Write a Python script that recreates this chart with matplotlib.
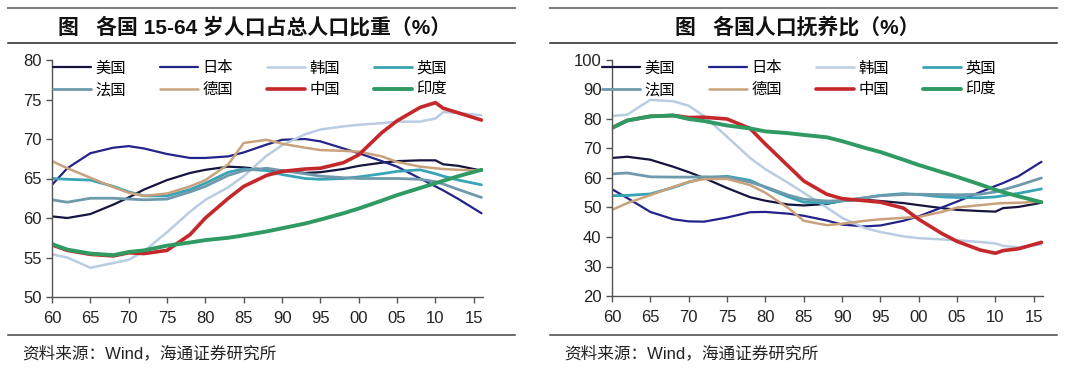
import matplotlib
matplotlib.use("Agg")
import matplotlib.pyplot as plt
from matplotlib.lines import Line2D
from matplotlib.ticker import FuncFormatter, MultipleLocator

plt.rcParams['font.family'] = ['Liberation Sans', 'Noto Sans CJK SC']
plt.rcParams['axes.unicode_minus'] = False

# ------------------------- DADOS -------------------------
years = [1960, 1962, 1965, 1968, 1970, 1972, 1975, 1978, 1980, 1983, 1985, 1988,
         1990, 1993, 1995, 1998, 2000, 2003, 2005, 2008, 2010, 2011, 2013, 2016]

countries = ["美国", "日本", "韩国", "英国", "法国", "德国", "中国", "印度"]

# 15-64 岁人口占总人口比重 (%)
work_us = [60.2, 60.0, 60.5, 61.7, 62.6, 63.6, 64.8, 65.7, 66.1, 66.5, 66.4, 66.1,
           66.0, 65.7, 65.8, 66.2, 66.6, 67.0, 67.2, 67.3, 67.3, 66.8, 66.6, 66.0]
work_jp = [64.2, 66.3, 68.2, 68.9, 69.1, 68.8, 68.1, 67.6, 67.6, 67.8, 68.3, 69.3,
           69.9, 70.0, 69.7, 68.8, 68.2, 67.2, 66.5, 65.0, 64.0, 63.5, 62.4, 60.6]
work_kr = [55.4, 55.0, 53.7, 54.3, 54.7, 55.8, 58.2, 60.8, 62.3, 63.9, 65.3, 67.9,
           69.2, 70.6, 71.2, 71.6, 71.8, 72.0, 72.2, 72.2, 72.6, 73.4, 73.3, 73.0]
work_uk = [65.0, 64.9, 64.8, 64.0, 63.3, 62.8, 62.8, 63.6, 64.4, 65.8, 66.2, 66.0,
           65.5, 65.0, 64.9, 65.0, 65.2, 65.6, 65.9, 66.1, 65.6, 65.3, 64.8, 64.2]
work_fr = [62.3, 62.0, 62.5, 62.5, 62.4, 62.3, 62.4, 63.3, 64.0, 65.4, 66.0, 66.3,
           66.0, 65.6, 65.3, 65.1, 65.0, 65.0, 65.0, 64.9, 64.6, 64.3, 63.6, 62.6]
work_de = [67.2, 66.3, 65.1, 63.9, 63.2, 62.8, 63.1, 64.0, 64.8, 66.8, 69.5, 69.9,
           69.4, 68.9, 68.6, 68.5, 68.4, 67.8, 67.1, 66.5, 66.3, 66.2, 66.1, 66.0]
work_cn = [56.6, 55.9, 55.4, 55.2, 55.6, 55.5, 55.9, 57.9, 60.0, 62.5, 64.0, 65.4,
           65.9, 66.2, 66.3, 67.0, 68.0, 70.8, 72.3, 74.0, 74.6, 73.9, 73.3, 72.4]
work_in = [56.7, 56.0, 55.5, 55.3, 55.7, 55.9, 56.5, 56.9, 57.2, 57.5, 57.8, 58.3,
           58.7, 59.3, 59.8, 60.6, 61.2, 62.2, 62.9, 63.8, 64.4, 64.7, 65.3, 66.1]

# 人口抚养比 (%)
dep_us = [66.8, 67.2, 66.2, 63.8, 62.0, 60.0, 56.6, 53.5, 52.3, 51.0, 50.7, 51.2,
          52.3, 52.6, 52.2, 51.5, 50.8, 49.8, 49.2, 48.8, 48.6, 49.8, 50.2, 51.6]
dep_jp = [56.2, 53.2, 48.5, 46.0, 45.3, 45.2, 46.6, 48.4, 48.5, 47.9, 47.2, 45.6,
          44.2, 43.6, 43.9, 45.5, 47.0, 50.0, 52.0, 55.2, 57.3, 58.3, 60.6, 65.5]
dep_kr = [81.0, 81.5, 86.5, 86.0, 84.5, 81.0, 74.0, 66.8, 63.0, 58.3, 55.0, 50.0,
          46.5, 43.0, 41.7, 40.2, 39.6, 39.2, 38.9, 38.3, 37.8, 37.0, 36.5, 37.5]
dep_uk = [54.0, 54.1, 54.6, 56.8, 58.6, 60.0, 60.6, 59.2, 56.8, 53.6, 51.8, 51.5,
          52.2, 53.3, 54.1, 54.7, 54.4, 53.6, 53.4, 53.3, 53.6, 54.0, 54.8, 56.3]
dep_fr = [61.4, 61.7, 60.4, 60.3, 60.3, 60.4, 60.3, 58.6, 57.0, 54.2, 52.8, 52.2,
          52.3, 53.3, 54.0, 54.4, 54.5, 54.4, 54.3, 54.5, 55.3, 56.0, 57.5, 60.0]
dep_de = [49.2, 51.5, 54.2, 57.0, 58.7, 59.6, 59.7, 57.6, 55.0, 49.8, 45.5, 44.0,
          44.5, 45.5, 46.0, 46.5, 46.8, 48.5, 50.0, 50.8, 51.3, 51.5, 51.6, 52.0]
dep_cn = [77.0, 79.5, 80.9, 81.2, 80.5, 80.6, 80.0, 76.8, 71.5, 64.0, 59.0, 54.5,
          53.0, 52.3, 51.8, 49.8, 46.0, 41.2, 38.5, 35.6, 34.5, 35.4, 36.0, 38.2]
dep_in = [77.0, 79.5, 80.9, 81.2, 80.0, 79.3, 77.8, 76.8, 75.8, 75.2, 74.6, 73.8,
          72.5, 70.2, 68.8, 66.2, 64.4, 62.0, 60.4, 57.8, 56.0, 55.2, 53.8, 51.8]

work_series = [work_us, work_jp, work_kr, work_uk, work_fr, work_de, work_cn, work_in]
dep_series = [dep_us, dep_jp, dep_kr, dep_uk, dep_fr, dep_de, dep_cn, dep_in]

colors = ["#15153f", "#23238a", "#b9cde2", "#3aa3b6", "#6f9aab", "#c9a27c", "#c4282b", "#2f9a62"]
widths = [1.6, 1.6, 1.8, 2.0, 2.0, 1.8, 2.6, 2.8]

# ordem da legenda: matplotlib preenche por coluna, a referencia por linha
leg_order = [0, 4, 1, 5, 2, 6, 3, 7]

W, H = 1080, 370


def fmt_year(x, pos):
    return f"{int(round(x)) % 100:02d}"


def setup_axis(ax, ylim, ystep):
    ax.set_xlim(1960, 2016.2)
    ax.set_ylim(*ylim)
    ax.xaxis.set_major_locator(MultipleLocator(5))
    ax.yaxis.set_major_locator(MultipleLocator(ystep))
    ax.xaxis.set_major_formatter(FuncFormatter(fmt_year))
    for s in ["top", "right"]:
        ax.spines[s].set_visible(False)
    for s in ["left", "bottom"]:
        ax.spines[s].set_color("#555555")
        ax.spines[s].set_linewidth(1.0)
    ax.tick_params(direction="out", length=4, width=1.0, color="#555555",
                   labelsize=12, labelcolor="#222222")
    ax.tick_params(axis="x", pad=6)


def draw_panel(ax, series):
    handles = []
    for name, vals, c, lw in zip(countries, series, colors, widths):
        h, = ax.plot(years, vals, color=c, lw=lw, label=name, solid_capstyle="round")
        handles.append(h)
    return [handles[i] for i in leg_order]


fig = plt.figure(figsize=(W / 100, H / 100), dpi=100)
fig.patch.set_facecolor("white")

ax1 = fig.add_axes([52 / W, 73 / H, 431 / W, 237 / H])
ax2 = fig.add_axes([612 / W, 74 / H, 431 / W, 236 / H])

setup_axis(ax1, (50, 80), 5)
setup_axis(ax2, (20, 100), 10)

h1 = draw_panel(ax1, work_series)
h2 = draw_panel(ax2, dep_series)

leg_kw = dict(ncol=4, loc="upper left", bbox_transform=fig.transFigure, frameon=False,
              fontsize=11, handlelength=2.5, handletextpad=0.3, columnspacing=2.2,
              labelspacing=0.5, borderpad=0, borderaxespad=0)
ax1.legend(handles=h1, bbox_to_anchor=(53 / W, 1 - 61 / H), **leg_kw)
ax2.legend(handles=h2, bbox_to_anchor=(602 / W, 1 - 61 / H), **leg_kw)

# titulos e linhas horizontais
for x0, x1, xt, title in [(8, 515, 255, "图   各国 15-64 岁人口占总人口比重（%）"),
                          (550, 1057, 797, "图   各国人口抚养比（%）")]:
    fig.add_artist(Line2D([x0 / W, x1 / W], [1 - 8 / H] * 2, color="#808080", lw=1.5))
    fig.add_artist(Line2D([x0 / W, x1 / W], [1 - 43 / H] * 2, color="#222222", lw=1.1))
    fig.add_artist(Line2D([x0 / W, x1 / W], [1 - 335 / H] * 2, color="#444444", lw=1.1))
    fig.text(xt / W, 1 - 27 / H, title, ha="center", va="center", fontsize=15,
             fontweight="bold", color="#111111")
    fig.text((x0 + 14) / W, 1 - 353 / H, "资料来源：Wind，海通证券研究所", ha="left",
             va="center", fontsize=12, color="#222222")

fig.savefig("out.png", dpi=100)
